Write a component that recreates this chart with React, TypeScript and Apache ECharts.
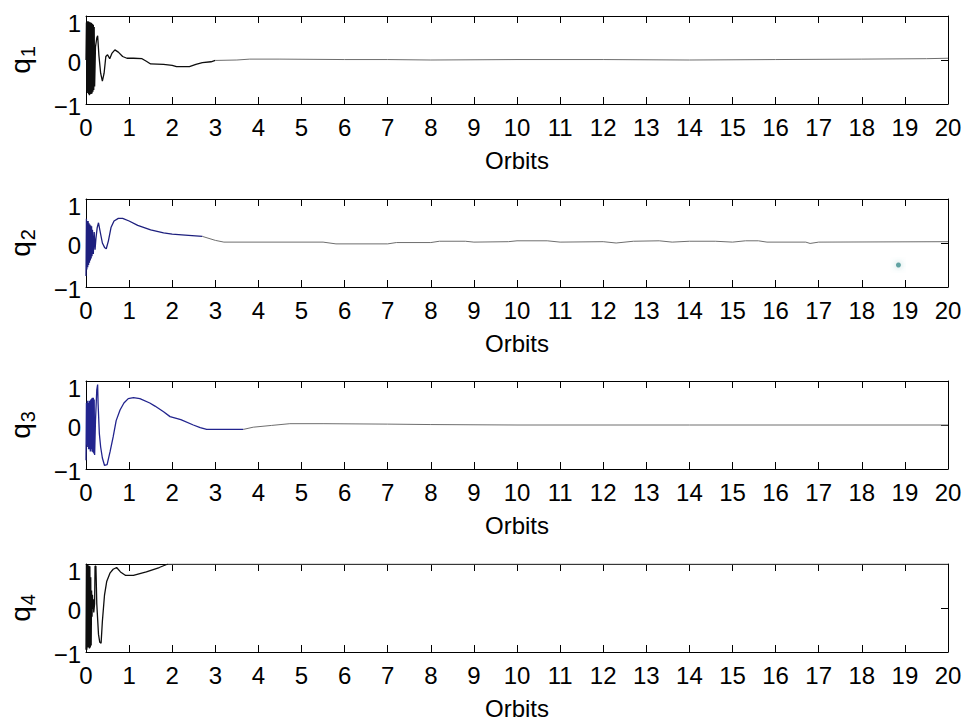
import { useEffect, useRef } from "react";
import * as echarts from "echarts";

// Quaternion components over 20 orbits, [orbit, value]
const q1: [number, number][] = [
  [0, 0], [0.01, 0.85], [0.02, -0.7], [0.03, 0.88], [0.04, -0.75], [0.05, 0.88], [0.06, -0.78],
  [0.07, 0.87], [0.08, -0.8], [0.09, 0.86], [0.1, -0.78], [0.11, 0.85], [0.12, -0.77], [0.13, 0.84],
  [0.14, -0.76], [0.15, 0.82], [0.16, -0.72], [0.17, 0.8], [0.18, -0.68], [0.19, 0.75], [0.2, -0.6],
  [0.22, 0.3], [0.25, 0.5], [0.27, 0.55], [0.3, 0.1], [0.34, -0.3], [0.38, -0.48], [0.42, -0.3],
  [0.46, 0.08], [0.5, 0.12], [0.55, 0.03], [0.6, 0.15], [0.67, 0.23], [0.75, 0.18], [0.85, 0.08],
  [0.95, 0.04], [1.1, 0.04], [1.3, 0.03], [1.4, -0.03], [1.5, -0.09], [1.8, -0.1], [2.0, -0.12],
  [2.1, -0.15], [2.4, -0.15], [2.55, -0.1], [2.7, -0.06], [2.9, -0.04], [3.0, -0.01], [3.5, 0],
  [3.8, 0.02], [4.5, 0.02], [6, 0.01], [7, 0.01], [8, 0], [10, 0.01], [12, 0.01], [14, 0],
  [16, 0.01], [18, 0.02], [19.5, 0.03], [20, 0.04],
];

const q2: [number, number][] = [
  [0, -0.75], [0.01, 0.55], [0.02, -0.6], [0.03, 0.5], [0.04, -0.55], [0.05, 0.5], [0.06, -0.5],
  [0.07, 0.45], [0.08, -0.45], [0.09, 0.42], [0.1, -0.4], [0.11, 0.4], [0.12, -0.35], [0.13, 0.38],
  [0.14, -0.3], [0.15, 0.3], [0.17, -0.25], [0.19, 0.25], [0.21, -0.15], [0.23, 0.1], [0.26, 0.35],
  [0.29, 0.46], [0.33, 0.25], [0.38, 0.0], [0.43, -0.1], [0.47, -0.13], [0.52, 0.05], [0.58, 0.35],
  [0.65, 0.5], [0.75, 0.56], [0.85, 0.56], [1.0, 0.5], [1.2, 0.4], [1.5, 0.3], [1.8, 0.23],
  [2.0, 0.2], [2.3, 0.18], [2.7, 0.15], [3.0, 0.06], [3.2, 0.02], [5.5, 0.02], [5.8, -0.02],
  [7, -0.02], [7.2, 0.01], [8, 0.01], [8.2, 0.04], [8.8, 0.04], [9, 0.02], [9.8, 0.03], [10, 0.05],
  [10.7, 0.05], [11, 0.02], [12, 0.03], [12.3, 0.0], [12.7, 0.04], [13.3, 0.05], [13.6, 0.02],
  [14, 0.04], [14.6, 0.04], [15, 0.02], [15.3, 0.05], [15.6, 0.05], [15.8, 0.02], [16.7, 0.02],
  [16.8, -0.01], [17, 0.02], [20, 0.03],
];

// stray sample in the q2 record
const q2Outlier: [number, number][] = [[18.85, -0.5]];

const q3: [number, number][] = [
  [0, -0.8], [0.01, 0.5], [0.02, -0.45], [0.03, 0.55], [0.04, -0.5], [0.05, 0.5], [0.06, -0.55],
  [0.07, 0.55], [0.08, -0.55], [0.09, 0.55], [0.1, -0.6], [0.11, 0.58], [0.12, -0.55], [0.13, 0.6],
  [0.14, -0.6], [0.15, 0.62], [0.16, -0.62], [0.17, 0.62], [0.18, -0.65], [0.19, 0.58], [0.2, -0.68],
  [0.22, 0.1], [0.25, 0.8], [0.27, 0.92], [0.28, 0.5], [0.31, -0.2], [0.34, -0.5], [0.38, -0.75],
  [0.43, -0.92], [0.49, -0.9], [0.56, -0.6], [0.63, -0.27], [0.7, 0.1], [0.79, 0.34], [0.88, 0.5],
  [0.98, 0.6], [1.1, 0.62], [1.25, 0.6], [1.48, 0.5], [1.6, 0.43], [1.8, 0.3], [1.95, 0.19],
  [2.2, 0.12], [2.49, 0.0], [2.65, -0.06], [2.8, -0.1], [3.65, -0.1], [3.88, -0.05], [4.3, -0.01],
  [4.73, 0.03], [5.5, 0.03], [7, 0.02], [8, 0.01], [10, 0.0], [14, 0.0], [20, 0],
];

const q4: [number, number][] = [
  [0, -0.95], [0.01, 0.98], [0.02, -0.95], [0.03, 0.98], [0.04, -0.9], [0.05, 0.97], [0.06, -0.9],
  [0.07, 0.96], [0.08, -0.92], [0.09, 0.95], [0.1, -0.9], [0.11, 0.7], [0.12, -0.85], [0.13, 0.4],
  [0.14, -0.2], [0.15, 0.3], [0.16, 0.0], [0.17, 0.2], [0.18, -0.1], [0.2, 0.1], [0.21, 0.95],
  [0.23, 0.95], [0.25, 0.1], [0.29, -0.6], [0.32, -0.78], [0.35, -0.8], [0.38, -0.3], [0.43, 0.3],
  [0.48, 0.6], [0.56, 0.8], [0.63, 0.88], [0.71, 0.92], [0.8, 0.82], [0.92, 0.74], [1.1, 0.74],
  [1.4, 0.82], [1.7, 0.92], [1.9, 1.0], [3, 1], [20, 1],
];

const SERIES = [q1, q2, q3, q4];
const SUBSCRIPTS = ["1", "2", "3", "4"];
const ORBIT_RANGE = [0, 20];
const Q_RANGE = [-1, 1];
const X_AXIS_NAME = "Orbits";

// Orbit where each trace fades from the bold early ink to the thin grey tail
const FADE_AT = [3, 2.7, 3.65, 1.9];

const FONT = "'Liberation Sans', Arial, Helvetica, sans-serif";
const INK = ["#0d0d0d", "#1d1f7e", "#22248e", "#0d0d0d"];
const TAIL = "#6e6e6e";

const GRID_TOPS = [16, 199, 381, 564];
const GRID_H = 88;
const GRID_LEFT = 86;
const GRID_W = 862;

export default function App() {
  const ref = useRef<HTMLDivElement>(null);

  useEffect(() => {
    if (!ref.current) return;
    const chart = echarts.init(ref.current, undefined, { renderer: "svg" });

    const grid: any[] = [];
    const xAxis: any[] = [];
    const yAxis: any[] = [];
    const series: any[] = [];

    const tick = { show: true, inside: true, length: 7, lineStyle: { color: "#000", width: 1 } };
    const line = { show: true, onZero: false, lineStyle: { color: "#000", width: 1 } };
    const txt = { fontFamily: FONT, color: "#000" };

    SERIES.forEach((data, i) => {
      grid.push({
        left: GRID_LEFT,
        top: GRID_TOPS[i],
        width: GRID_W,
        height: GRID_H,
        containLabel: false,
        outerBoundsMode: "none",
      });

      const xBase = {
        gridIndex: i,
        type: "value",
        min: ORBIT_RANGE[0],
        max: ORBIT_RANGE[1],
        interval: 1,
        splitLine: { show: false },
        axisLine: line,
        axisTick: tick,
      };
      xAxis.push({
        ...xBase,
        position: "bottom",
        axisLabel: { ...txt, fontSize: 24, margin: 11 },
        name: X_AXIS_NAME,
        nameLocation: "middle",
        nameGap: 44,
        nameTextStyle: { ...txt, fontSize: 24 },
      });
      xAxis.push({ ...xBase, position: "top", axisLabel: { show: false } });

      const yBase = {
        gridIndex: i,
        type: "value",
        min: Q_RANGE[0],
        max: Q_RANGE[1],
        interval: 1,
        splitLine: { show: false },
        axisLine: line,
        axisTick: tick,
      };
      yAxis.push({
        ...yBase,
        position: "left",
        axisLabel: {
          margin: 5,
          formatter: (v: number) =>
            v === 1 ? "{hi|1}" : v === -1 ? "{lo|\u22121}" : "{mid|" + v + "}",
          rich: {
            hi: { ...txt, fontSize: 24, padding: [14, 0, 0, 0] },
            mid: { ...txt, fontSize: 24, padding: [4, 0, 0, 0] },
            lo: { ...txt, fontSize: 24, padding: [4, 0, 0, 0] },
          },
        },
        name: "{q|q}{s|" + SUBSCRIPTS[i] + "}",
        nameLocation: "middle",
        nameRotate: 90,
        nameGap: 48,
        nameTextStyle: {
          rich: {
            q: { ...txt, fontSize: 28, lineHeight: 32, verticalAlign: "top" },
            s: { ...txt, fontSize: 20, lineHeight: 24, padding: [16, 0, 0, 1], verticalAlign: "bottom" },
          },
        },
      });
      yAxis.push({ ...yBase, position: "right", axisLabel: { show: false } });

      // bold early transient, then thin grey tail
      const cut = FADE_AT[i];
      const early = data.filter((p) => p[0] <= cut);
      const tail = data.filter((p) => p[0] >= cut);
      series.push({
        type: "line",
        xAxisIndex: i * 2,
        yAxisIndex: i * 2,
        data: early,
        showSymbol: false,
        lineStyle: { width: 1.3, color: INK[i] },
        z: 3,
      });
      series.push({
        type: "line",
        xAxisIndex: i * 2,
        yAxisIndex: i * 2,
        data: tail,
        showSymbol: false,
        lineStyle: { width: 1, color: TAIL },
        z: 3,
      });
    });

    series.push({
      type: "scatter",
      xAxisIndex: 2,
      yAxisIndex: 2,
      data: q2Outlier,
      symbolSize: 5,
      itemStyle: { color: "#3f8f8f", shadowBlur: 6, shadowColor: "rgba(90,170,170,0.8)" },
      z: 4,
    });

    chart.setOption({
      animation: false,
      backgroundColor: "#fff",
      grid,
      xAxis,
      yAxis,
      series,
    });

    return () => chart.dispose();
  }, []);

  return (
    <div
      ref={ref}
      style={{ position: "absolute", left: 0, top: 0, width: 969, height: 723 }}
    />
  );
}
